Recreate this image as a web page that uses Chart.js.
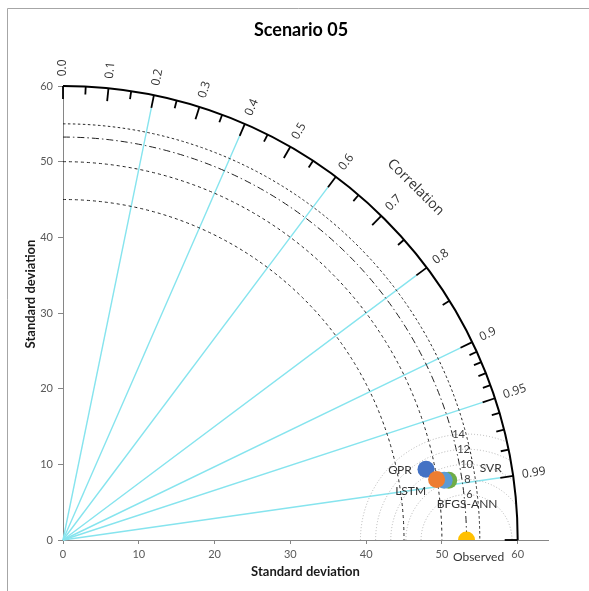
<!DOCTYPE html>
<html>
<head>
<meta charset="utf-8">
<script src="https://cdn.jsdelivr.net/npm/chart.js@4.4.1/dist/chart.umd.min.js"></script>
<style>
html, body { margin: 0; padding: 0; background: #fff; }
#wrap { width: 589px; height: 591px; position: relative; }
</style>
</head>
<body>
<div id="wrap"><canvas id="taylor"></canvas></div>
<script>
// series (drawn order: first one ends up on top)
const SERIES = ['LSTM', 'BFGS-ANN', 'SVR', 'GPR', 'Observed'];
const SD_X = [49.3, 50.3, 50.9, 47.9, 53.25];
const SD_Y = [8.0, 7.9, 7.9, 9.35, 0];

// diagram furniture
const SD_TICKS = [0, 10, 20, 30, 40, 50, 60];
const SD_MAX = 60;
const SD_ARCS = [45, 50, 55];
const REF_SD = 53.25;
const RMS_CIRCLES = [6, 8, 10, 12, 14];
const CORR_MAJOR = [0, 0.1, 0.2, 0.3, 0.4, 0.5, 0.6, 0.7, 0.8, 0.9, 0.95, 0.99, 1.0];
const CORR_LABELS = ['0.0', '0.1', '0.2', '0.3', '0.4', '0.5', '0.6', '0.7', '0.8', '0.9', '0.95', '0.99', ''];
const CORR_MINOR = [0.05, 0.15, 0.25, 0.35, 0.45, 0.55, 0.65, 0.75, 0.85, 0.91, 0.92, 0.93, 0.94, 0.96, 0.97, 0.98];
const CORR_RAYS = [0.2, 0.4, 0.6, 0.8, 0.9, 0.95, 0.99];

// styles
const COLORS = ['#ED7D31', '#5B9BD5', '#70AD47', '#4472C4', '#FFC000'];
const LABEL_SHIFT = [[-26, 12], [23, 24], [42, -12], [-26, 1], [12, 17]]; // px offset of label centre
const RMS_LABEL_SHIFT = [3, 1, 0, -3, -8];
const CYAN = '#86E4EE';

Chart.defaults.font.family = 'Lato';
Chart.defaults.color = '#595959';

const taylorPlugin = {
    id: 'taylor',
    beforeDraw(chart) {
        const ctx = chart.ctx;
        ctx.save();
        ctx.strokeStyle = '#A6A6A6';
        ctx.lineWidth = 1;
        ctx.beginPath();
        ctx.moveTo(7.5, 591);
        ctx.lineTo(7.5, 8.5);
        ctx.lineTo(589, 8.5);
        ctx.stroke();
        ctx.restore();
    },
    beforeDatasetsDraw(chart) {
        const ctx = chart.ctx;
        const xs = chart.scales.x, ys = chart.scales.y;
        const ox = xs.getPixelForValue(0), oy = ys.getPixelForValue(0);
        const kx = xs.getPixelForValue(1) - ox, ky = oy - ys.getPixelForValue(1);
        const R = SD_MAX;
        const pt = (r, th) => [ox + r * kx * Math.cos(th), oy - r * ky * Math.sin(th)];

        ctx.save();
        // correlation rays
        ctx.strokeStyle = CYAN;
        ctx.lineWidth = 1.4;
        CORR_RAYS.forEach(c => {
            const th = Math.acos(c);
            const [x1, y1] = pt(R - 13 / kx, th);
            ctx.beginPath();
            ctx.moveTo(ox, oy);
            ctx.lineTo(x1, y1);
            ctx.stroke();
        });

        // std dev arcs
        ctx.strokeStyle = '#222';
        ctx.lineWidth = 1;
        SD_ARCS.forEach((r, i) => {
            ctx.setLineDash(i === 2 ? [2.5, 2.5] : [3, 3]);
            ctx.beginPath();
            ctx.ellipse(ox, oy, r * kx, r * ky, 0, -Math.PI / 2, 0);
            ctx.stroke();
        });
        ctx.setLineDash([7, 3, 1.5, 3]);
        ctx.beginPath();
        ctx.ellipse(ox, oy, REF_SD * kx, REF_SD * ky, 0, -Math.PI / 2, 0);
        ctx.stroke();

        // rms circles around the observed point, clipped to the quadrant
        ctx.save();
        ctx.beginPath();
        ctx.moveTo(ox, oy);
        ctx.ellipse(ox, oy, R * kx, R * ky, 0, -Math.PI / 2, 0);
        ctx.closePath();
        ctx.clip();
        const cx = xs.getPixelForValue(REF_SD);
        ctx.strokeStyle = '#B4B4B4';
        ctx.setLineDash([1, 2]);
        RMS_CIRCLES.forEach(r => {
            ctx.beginPath();
            ctx.ellipse(cx, oy, r * kx, r * ky, 0, Math.PI, 2 * Math.PI);
            ctx.stroke();
        });
        ctx.restore();

        // outer arc + ticks
        ctx.setLineDash([]);
        ctx.strokeStyle = '#000';
        ctx.lineWidth = 2;
        ctx.beginPath();
        ctx.ellipse(ox, oy, R * kx, R * ky, 0, -Math.PI / 2, 0);
        ctx.stroke();
        ctx.lineWidth = 1.8;
        const tick = (c, len) => {
            const th = Math.acos(c);
            const [x0, y0] = pt(R, th);
            const [x1, y1] = pt(R - len / kx, th);
            ctx.beginPath();
            ctx.moveTo(x0, y0);
            ctx.lineTo(x1, y1);
            ctx.stroke();
        };
        CORR_MAJOR.forEach(c => tick(c, 13));
        CORR_MINOR.forEach(c => tick(c, 8));
        ctx.restore();
    },
    afterDatasetsDraw(chart) {
        const ctx = chart.ctx;
        const xs = chart.scales.x, ys = chart.scales.y;
        const ox = xs.getPixelForValue(0), oy = ys.getPixelForValue(0);
        const kx = xs.getPixelForValue(1) - ox, ky = oy - ys.getPixelForValue(1);
        const Rpx = SD_MAX * kx;

        ctx.save();
        // correlation labels
        ctx.fillStyle = '#333';
        ctx.font = '12px "Open Sans"';
        ctx.textAlign = 'left';
        ctx.textBaseline = 'middle';
        CORR_MAJOR.forEach((c, i) => {
            if (!CORR_LABELS[i]) return;
            const th = Math.acos(c);
            ctx.save();
            ctx.translate(ox + (Rpx + 9) * Math.cos(th), oy - (Rpx + 9) * Math.sin(th));
            ctx.rotate(-th);
            ctx.fillText(CORR_LABELS[i], 0, 0);
            ctx.restore();
        });
        ctx.save();
        const th = Math.PI / 4;
        ctx.translate(ox + (Rpx + 44) * Math.cos(th), oy - (Rpx + 44) * Math.sin(th));
        ctx.rotate(Math.PI / 2 - th);
        ctx.font = '14px "Open Sans"';
        ctx.textAlign = 'center';
        ctx.fillText('Correlation', 0, 0);
        ctx.restore();

        // rms labels
        ctx.font = '11px Lato';
        ctx.textAlign = 'center';
        ctx.fillStyle = '#404040';
        const cx = xs.getPixelForValue(REF_SD);
        RMS_CIRCLES.forEach((r, i) => {
            ctx.fillText(String(r), cx + RMS_LABEL_SHIFT[i], oy - r * ky);
        });

        // point labels
        ctx.font = '12px Lato';
        ctx.fillStyle = '#333';
        SERIES.forEach((name, i) => {
            const px = xs.getPixelForValue(SD_X[i]), py = ys.getPixelForValue(SD_Y[i]);
            ctx.fillText(name, px + LABEL_SHIFT[i][0], py + LABEL_SHIFT[i][1]);
        });

        // chart title and y title
        ctx.fillStyle = '#000';
        ctx.font = 'bold 18px Lato';
        ctx.fillText('Scenario 05', 301, 30);
        ctx.translate(31, 294);
        ctx.rotate(-Math.PI / 2);
        ctx.font = 'bold 13px Lato';
        ctx.fillStyle = '#1a1a1a';
        ctx.fillText('Standard deviation', 0, 0);
        ctx.restore();
    }
};

new Chart(document.getElementById('taylor'), {
    type: 'scatter',
    data: {
        datasets: SERIES.map((name, i) => ({
            label: name,
            data: [{ x: SD_X[i], y: SD_Y[i] }],
            backgroundColor: COLORS[i],
            borderWidth: 0,
            pointRadius: 8.5,
            pointHoverRadius: 8.5
        }))
    },
    options: {
        responsive: true,
        maintainAspectRatio: false,
        animation: false,
        layout: { padding: { top: 86, right: 41, left: 0, bottom: 0 } },
        plugins: {
            legend: { display: false },
            tooltip: { enabled: false }
        },
        scales: {
            x: {
                type: 'linear',
                min: 0,
                max: 64,
                afterFit: s => { s.height = 51; },
                afterBuildTicks: s => { s.ticks = SD_TICKS.map(v => ({ value: v })); },
                ticks: { font: { size: 11 }, padding: 4, color: '#595959' },
                grid: { drawOnChartArea: false, tickLength: 4, color: '#868686' },
                border: { color: '#868686' },
                title: {
                    display: true,
                    text: 'Standard deviation',
                    font: { size: 13, weight: 'bold' },
                    color: '#1a1a1a',
                    padding: { top: 0, bottom: 11 }
                }
            },
            y: {
                type: 'linear',
                min: 0,
                max: 60,
                afterFit: s => { s.width = 63; },
                afterBuildTicks: s => { s.ticks = SD_TICKS.map(v => ({ value: v })); },
                ticks: { font: { size: 11 }, padding: 5, color: '#595959' },
                grid: { drawOnChartArea: false, tickLength: 5, color: '#868686' },
                border: { color: '#868686' }
            }
        }
    },
    plugins: [taylorPlugin]
});
</script>
</body>
</html>
